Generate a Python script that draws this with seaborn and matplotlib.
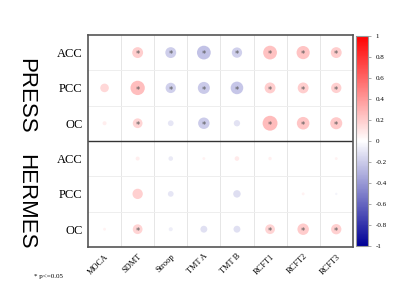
import numpy as np
import pandas as pd
import matplotlib
matplotlib.use("Agg")
import matplotlib.pyplot as plt
import seaborn as sns
from matplotlib.colors import LinearSegmentedColormap, Normalize

tests = ["MOCA", "SDMT", "Stroop", "TMT A", "TMT B", "RCFT1", "RCFT2", "RCFT3"]
regions = ["ACC", "PCC", "OC"]
groups = ["PRESS", "HERMES"]

# correlation r per region x test
press_r = [
    [0.00, 0.19, -0.19, -0.24, -0.18, 0.24, 0.23, 0.19],
    [0.15, 0.25, -0.18, -0.21, -0.22, 0.19, 0.19, 0.18],
    [0.07, 0.17, -0.10, -0.20, -0.11, 0.26, 0.22, 0.21],
]
hermes_r = [
    [0.00, 0.07, -0.08, 0.05, 0.08, 0.06, 0.00, 0.05],
    [0.00, 0.18, -0.10, 0.00, -0.13, 0.00, 0.05, -0.04],
    [0.05, 0.17, -0.07, -0.12, -0.12, 0.17, 0.20, 0.18],
]
# significance (p<=0.05)
press_sig = [
    [0, 1, 1, 1, 1, 1, 1, 1],
    [0, 1, 1, 1, 1, 1, 1, 1],
    [0, 1, 0, 1, 0, 1, 1, 1],
]
hermes_sig = [
    [0, 0, 0, 0, 0, 0, 0, 0],
    [0, 0, 0, 0, 0, 0, 0, 0],
    [0, 1, 0, 0, 0, 1, 1, 1],
]

rows = []
for g, vals, sig in [("PRESS", press_r, press_sig), ("HERMES", hermes_r, hermes_sig)]:
    for i, reg in enumerate(regions):
        for j, t in enumerate(tests):
            rows.append({"group": g, "region": reg, "test": t,
                         "x": j, "y": groups.index(g) * 3 + i,
                         "r": vals[i][j], "sig": sig[i][j]})
df = pd.DataFrame(rows)
df["r2"] = df["r"] ** 2

cmap = LinearSegmentedColormap.from_list("bwr2", ["#000096", "#ffffff", "#ff0000"])
norm = Normalize(-1, 1)

fig = plt.figure(figsize=(4, 2.96), dpi=100)
ax = fig.add_axes([0.22, 0.166, 0.662, 0.716])
cax = fig.add_axes([0.89, 0.169, 0.03, 0.71])

sns.scatterplot(data=df, x="x", y="y", hue="r", palette=cmap, hue_norm=norm,
                size="r2", size_norm=(0, 1), sizes=(0, 1700),
                linewidth=0, legend=False, ax=ax, zorder=3)

for _, row in df[df["sig"] == 1].iterrows():
    ax.text(row["x"], row["y"] + 0.06, "*", ha="center", va="center", fontsize=6,
            color="#555555", zorder=4)

ax.set_xlim(-0.5, len(tests) - 0.5)
ax.set_ylim(5.5, -0.5)
for k in np.arange(0.5, len(tests) - 0.5):
    ax.axvline(k, color="#e6e6e6", lw=0.7, zorder=1)
for k in np.arange(0.5, 5.5):
    ax.axhline(k, color="#eeeeee", lw=0.7, zorder=1)
ax.axhline(2.5, color="#333333", lw=1.0, zorder=2)

ax.set_xticks(range(len(tests)))
ax.set_xticklabels(tests, rotation=45, ha="right", rotation_mode="anchor",
                   fontsize=6, family="Liberation Serif")
ax.set_yticks(range(6))
ax.set_yticklabels(regions * 2, fontsize=9, family="Liberation Serif")
ax.tick_params(length=0, pad=4)
ax.set_xlabel("")
ax.set_ylabel("")
for s in ax.spines.values():
    s.set_color("#555555")
    s.set_linewidth(1.2)

fig.text(0.065, 0.675, "PRESS", rotation=-90, ha="center", va="center",
         fontsize=16, family="Liberation Sans")
fig.text(0.065, 0.32, "HERMES", rotation=-90, ha="center", va="center",
         fontsize=16, family="Liberation Sans")
fig.text(0.085, 0.06, "* p<=0.05", fontsize=5, family="Liberation Serif")

cb = fig.colorbar(plt.cm.ScalarMappable(norm=norm, cmap=cmap), cax=cax)
cb.set_ticks(np.arange(-1, 1.01, 0.2))
cb.set_ticklabels(["-1", "-0.8", "-0.6", "-0.4", "-0.2", "0", "0.2", "0.4", "0.6", "0.8", "1"])
cb.ax.tick_params(labelsize=5, length=2, width=0.5, color="#888888")
for lab in cb.ax.get_yticklabels():
    lab.set_family("Liberation Serif")
cb.outline.set_edgecolor("#999999")

plt.savefig("out.png", dpi=100)
plt.close()
